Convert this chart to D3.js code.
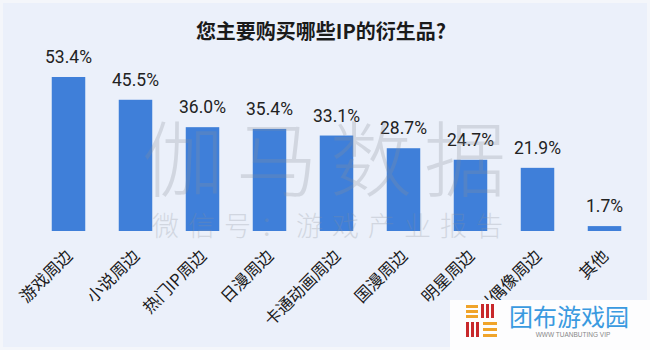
<!DOCTYPE html>
<html>
<head>
<meta charset="utf-8">
<script src="https://cdn.jsdelivr.net/npm/d3@7"></script>
<style>
  html, body { margin: 0; padding: 0; background: #f4f6fa; }
  svg { display: block; }
</style>
</head>
<body>
<div id="chart"></div>
<script>
// data
var categories = ["游戏周边", "小说周边", "热门IP周边", "日漫周边", "卡通动画周边", "国漫周边", "明星周边", "虚拟偶像周边", "其他"];
var values = [53.4, 45.5, 36.0, 35.4, 33.1, 28.7, 24.7, 21.9, 1.7];
var title = "您主要购买哪些IP的衍生品?";

var W = 650, H = 350;
var baseline = 231;

var svg = d3.select("#chart").append("svg")
  .attr("width", W)
  .attr("height", H);

svg.append("rect").attr("width", W).attr("height", H).attr("fill", "#f4f6fa");
svg.append("rect").attr("x", 3).attr("y", 3).attr("width", W - 6).attr("height", H - 6).attr("fill", "#ebf0fa");

var x = d3.scaleBand()
  .domain(categories)
  .range([35, 638])
  .paddingInner(0.5)
  .paddingOuter(0.25);

var y = d3.scaleLinear()
  .domain([0, 60])
  .range([baseline, baseline - 2.884 * 60]);

svg.append("text")
  .attr("x", 321)
  .attr("y", 39)
  .attr("text-anchor", "middle")
  .attr("font-family", "'Noto Sans CJK SC', 'Noto Sans', sans-serif")
  .attr("font-weight", "bold")
  .attr("font-size", 20)
  .attr("fill", "#1a1a1a")
  .text(title);

var g = svg.selectAll(".bar")
  .data(values)
  .enter()
  .append("g");

g.append("rect")
  .attr("class", "bar")
  .attr("fill", "#3f7fd9")
  .attr("x", function(d, i) { return x(categories[i]); })
  .attr("width", x.bandwidth())
  .attr("y", function(d) { return y(d); })
  .attr("height", function(d) { return baseline - y(d); });

g.append("text")
  .attr("x", function(d, i) { return x(categories[i]) + x.bandwidth() / 2; })
  .attr("y", function(d) { return y(d) - 14; })
  .attr("text-anchor", "middle")
  .attr("font-family", "Roboto, 'Noto Sans', sans-serif")
  .attr("font-size", 17.5)
  .attr("fill", "#222")
  .text(function(d) { return d.toFixed(1) + "%"; });

// category labels, rotated
svg.selectAll(".cat")
  .data(categories)
  .enter()
  .append("text")
  .attr("class", "cat")
  .attr("text-anchor", "end")
  .attr("font-family", "'Noto Sans CJK SC', sans-serif")
  .attr("font-size", 16.5)
  .attr("fill", "#1a1a1a")
  .attr("transform", function(d) {
    var cx = x(d) + x.bandwidth() / 2;
    return "translate(" + (cx + 5) + "," + (baseline + 26) + ") rotate(-45)";
  })
  .text(function(d) { return d; });

// watermark
svg.append("text")
  .attr("x", 330)
  .attr("y", 190)
  .attr("text-anchor", "middle")
  .attr("font-family", "'Noto Sans CJK SC', sans-serif")
  .attr("font-weight", 300)
  .attr("font-size", 82)
  .attr("letter-spacing", 12)
  .attr("fill", "#8a9099")
  .attr("opacity", 0.26)
  .text("伽马数据");

svg.append("text")
  .attr("x", 332)
  .attr("y", 236)
  .attr("text-anchor", "middle")
  .attr("font-family", "'Noto Sans CJK SC', sans-serif")
  .attr("font-weight", 300)
  .attr("font-size", 27)
  .attr("letter-spacing", 9)
  .attr("fill", "#8a9099")
  .attr("opacity", 0.26)
  .text("微信号：游戏产业报告");

// logo box
var logo = svg.append("g").attr("transform", "translate(450,300)");
logo.append("rect").attr("width", 200).attr("height", 50).attr("fill", "#fdfdfe");

var orange = "#f0a42a", red = "#c8282b";
// top-left: horizontal orange stripes
[0, 1, 2].forEach(function(k) {
  logo.append("rect").attr("x", 16).attr("y", 5 + k * 5).attr("width", 12).attr("height", 3).attr("fill", orange);
});
// top-right: vertical red stripes
[0, 1, 2].forEach(function(k) {
  logo.append("rect").attr("x", 31 + k * 5).attr("y", 4).attr("width", 3).attr("height", 14).attr("fill", red);
});
// bottom-left: vertical red stripes
[0, 1, 2].forEach(function(k) {
  logo.append("rect").attr("x", 16 + k * 5).attr("y", 22).attr("width", 3).attr("height", 15).attr("fill", red);
});
// bottom-right: horizontal orange stripes
[0, 1, 2].forEach(function(k) {
  logo.append("rect").attr("x", 33).attr("y", 22 + k * 6).attr("width", 14).attr("height", 3).attr("fill", orange);
});

logo.append("text")
  .attr("x", 59)
  .attr("y", 26)
  .attr("font-family", "'Noto Sans CJK SC', sans-serif")
  .attr("font-size", 24)
  .attr("fill", "#3a9ae0")
  .text("团布游戏园");

logo.append("text")
  .attr("x", 123)
  .attr("y", 37)
  .attr("text-anchor", "middle")
  .attr("font-family", "'Liberation Sans', sans-serif")
  .attr("font-size", 6.5)
  .attr("fill", "#888")
  .text("WWW TUANBUTING VIP");
</script>
</body>
</html>
